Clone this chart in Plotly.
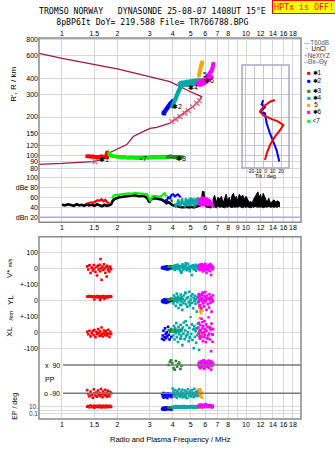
import math
import plotly.graph_objects as go

W, H = 335, 451
L, R = 39, 34
PW = W - L - R

def py(p):
    return 1 - p / H

def pxp(p):
    return (p - L) / PW

# ---------------- data ----------------
top_ticks = [1, 1.5, 2, 3, 4, 5, 6, 7, 8, 9, 10, 12, 14, 16, 18]
top_labels = ["1", "1.5", "2", "3", "4", "5", "6", "7", "8", "", "10", "12", "14", "16", "18"]
mid_labels = ["1", "1.5", "2", "3", "4", "5", "6", "7", "8", "9", "10", "12", "14", "16", "18"]
h_ticks = [80, 90, 100, 120, 150, 200, 300, 400, 600, 800]

# N(h) profile (topside then bottomside)
prof_f = [0.75, 1.0, 2.0, 3.0, 3.86, 4.96, 5.74, 5.51, 5.13, 4.66, 3.95, 3.86, 3.27, 3.01,
          2.76, 2.44, 2.25, 1.98, 1.78, 1.75, 1.48, 1.0, 0.75]
prof_h = [626, 573, 473, 412, 377, 316, 288, 263, 240, 219, 184, 179, 166, 163,
          154, 141, 122, 112, 104, 96, 90, 87, 85.7]

nxt_f = [1.51, 3.95, 4.16, 4.38, 4.66, 4.86, 5.13, 5.40, 5.57]
nxt_h = [90, 184, 192, 201, 214, 224, 240, 256, 268]

# echo traces (virtual height)
tr_red_f = [1.37, 1.40, 1.43, 1.46, 1.49, 1.52, 1.55, 1.58, 1.61, 1.64, 1.67, 1.70, 1.73, 1.75, 1.76, 1.76]
tr_red_h = [99, 99, 98, 99, 98, 97, 98, 97, 98, 99, 97, 98, 99, 103, 106, 97]
tr_lg_f = [1.80, 1.83, 1.86, 1.90, 1.95, 2.00, 2.05, 2.10, 2.15, 2.20, 2.25, 2.30, 2.35, 2.40, 2.45, 2.50,
           2.55, 2.60, 2.65, 2.70, 2.75, 2.80, 2.85, 2.90, 2.95, 3.00, 3.05, 3.10, 3.15, 3.20, 3.25,
           3.30, 3.35, 3.40, 3.45, 3.50, 3.55, 3.60, 3.65, 3.72]
tr_lg_h = [104, 101, 100, 99, 99, 98, 98, 97, 98, 97, 97, 96, 97, 97, 96, 97,
           96, 96, 97, 96, 97, 96, 97, 97, 96, 97, 97, 98, 97, 98, 97,
           98, 98, 97, 98, 98, 97, 98, 97, 98]
tr_dg_f = [3.76, 3.82, 3.88, 3.94, 4.00, 4.06, 4.12, 4.18, 4.24, 4.30, 4.36, 4.42, 4.48]
tr_dg_h = [98, 98, 99, 98, 98, 98, 97, 98, 97, 97, 98, 97, 97]
tr_bl_f = [3.55, 3.58, 3.61, 3.64, 3.67, 3.70, 3.73, 3.76, 3.79, 3.82, 3.85, 3.88, 3.91, 3.94, 3.97, 4.00, 4.03, 3.60]
tr_bl_h = [214, 217, 220, 223, 227, 231, 235, 239, 243, 246, 250, 253, 256, 259, 262, 265, 268, 212]
tr_te_f = [3.97, 4.00, 4.02, 4.05, 4.07, 4.10, 4.12, 4.15, 4.17, 4.20, 4.22, 4.25, 4.27, 4.30, 4.32, 4.35,
           4.37, 4.40, 4.42, 4.35, 4.40, 4.45, 4.50, 4.55, 4.60, 4.65, 4.70, 4.75, 4.80, 4.85, 4.90,
           4.95, 5.00, 5.05, 5.10, 5.15, 5.20, 5.25, 5.30, 5.35, 5.40, 5.45, 5.50, 5.55, 5.62,
           4.50, 4.60, 4.70, 4.80, 4.90, 5.00, 5.10, 5.20, 5.30, 5.40, 5.50]
tr_te_h = [241, 246, 252, 258, 263, 268, 274, 280, 286, 292, 298, 304, 310, 316, 322, 328,
           334, 340, 346, 362, 366, 368, 370, 372, 366, 370, 372, 374, 378, 375, 372,
           376, 380, 378, 376, 381, 384, 380, 378, 384, 386, 382, 386, 380, 388,
           352, 354, 355, 356, 358, 358, 360, 360, 362, 364, 366]
tr_or_f = [5.55, 5.57, 5.59, 5.61, 5.63, 5.65, 5.67, 5.69, 5.71, 5.74, 5.78]
tr_or_h = [420, 430, 440, 450, 462, 474, 486, 498, 510, 522, 532]
tr_mg_f = [5.45, 5.50, 5.55, 5.60, 5.65, 5.70, 5.75, 5.80, 5.85, 5.90, 5.95, 6.00, 6.05, 6.10, 6.15,
           6.20, 6.25, 6.30, 6.35, 6.40, 6.45, 6.50, 6.53, 6.56, 6.58, 6.60, 6.62, 6.64,
           5.60, 5.70, 5.80, 5.90, 6.00, 6.10, 6.20, 6.30, 6.40, 6.50]
tr_mg_h = [362, 364, 368, 370, 372, 375, 378, 381, 385, 388, 392, 396, 400, 405, 410,
           415, 420, 428, 435, 442, 450, 458, 466, 475, 485, 495, 505, 518,
           356, 358, 362, 366, 372, 378, 385, 392, 400, 410]

lab_text = ["✱1", "<7", "✱3", "✱2", "✱4", "5", "✱6"]
lab_f = [1.69, 2.74, 4.43, 4.24, 5.12, 5.99, 6.30]
lab_h = [93.4, 94.3, 94.3, 241.6, 339, 432, 385]

# tilt inset
tiltx_t = [12.2, 6.7, -0.8, -4.4, -0.8, 6.7, 15.9, 21.4, 17.8, 12.2, 6.7, 3.0, 1.1]
tiltx_h = [271, 263, 241, 220, 207, 195, 184, 173, 158, 141, 121, 104, 92.6]
tilty_t = [-0.8, -2.6, 1.1, -4.4, 1.1, 3.0, 6.7, 10.3, 14.1, 17.0]
tilty_h = [271, 251, 238, 220, 214, 179, 149, 129, 110, 90]
tilt_ticks = [-20, -10, 0, 10, 20]

# amplitude panel
amp_f = [1.00, 1.04, 1.08, 1.12, 1.16, 1.20, 1.24, 1.28, 1.32, 1.36, 1.40, 1.45, 1.50, 1.55, 1.60, 1.65,
         1.70, 1.75, 1.80, 1.85, 1.88, 1.92, 1.98, 2.05, 2.15, 2.25, 2.35, 2.45, 2.55, 2.65, 2.75, 2.85,
         2.92, 2.98, 3.03, 3.10, 3.20, 3.30, 3.40, 3.50, 3.60, 3.70, 3.80, 3.90, 4.00, 4.15, 4.30, 4.45,
         4.60, 4.75, 4.90, 5.05, 5.20, 5.35, 5.50, 5.65, 5.80, 5.86, 5.95, 6.10, 6.30, 6.50]
amp_v = [45, 44, 46, 45, 43, 46, 44, 45, 43, 46, 44, 45, 43, 46, 44, 42,
         45, 43, 44, 46, 52, 56, 58, 60, 61, 62, 63, 64, 63, 62, 63, 61,
         57, 50, 55, 57, 58, 57, 56, 55, 52, 48, 50, 47, 44, 43, 41, 40,
         40, 41, 40, 41, 40, 41, 42, 44, 60, 72, 46, 42, 41, 40]
noise_f = [6.60, 6.75, 6.90, 7.05, 7.20, 7.35, 7.50, 7.65, 7.80, 7.95, 8.10, 8.25, 8.40, 8.55, 8.70,
           8.85, 9.00, 9.20, 9.40, 9.60, 9.80, 10.0, 10.2, 10.4, 10.6, 10.8, 11.0, 11.2, 11.4, 11.6,
           11.8, 12.0, 12.2, 12.4, 12.6, 12.8, 13.0, 13.3, 13.6, 13.9, 14.2, 14.5, 14.8, 15.1, 15.3]
noise_hi = [54, 64, 50, 60, 56, 62, 48, 58, 66, 52, 60, 50, 64, 68, 56,
            62, 54, 66, 60, 64, 56, 62, 54, 50, 52, 48, 56, 62, 68, 71,
            60, 66, 54, 68, 62, 56, 50, 58, 48, 52, 55, 50, 53, 51, 49]
noise_lo = [40, 41, 39, 42, 40, 41, 40, 39, 41, 40, 42, 40, 39, 41, 40,
            41, 40, 42, 40, 39, 41, 40, 41, 40, 39, 41, 40, 42, 41, 40,
            41, 40, 41, 39, 40, 41, 40, 42, 40, 41, 40, 41, 40, 42, 41]
amp_red_f = [1.36, 1.40, 1.44, 1.48, 1.52, 1.56, 1.60, 1.64, 1.68, 1.72, 1.76, 1.80]
amp_red = [47, 48, 50, 49, 52, 54, 53, 56, 52, 55, 50, 48]
amp_lg_f = [1.87, 1.92, 2.0, 2.1, 2.2, 2.3, 2.4, 2.5, 2.6, 2.7, 2.8, 2.9, 2.97, 3.02, 3.1, 3.2, 3.3,
            3.4, 3.5, 3.6, 3.7]
amp_lg = [58, 64, 65, 66, 67, 68, 67, 69, 68, 68, 67, 66, 58, 52, 62, 63, 62, 61, 64, 68, 62]
amp_bl_f = [3.62, 3.70, 3.78, 3.86, 3.94, 4.02, 4.10, 4.18, 4.26, 4.34, 4.42]
amp_bl = [55, 52, 60, 58, 65, 66, 62, 64, 66, 63, 60]
amp_dg_f = [3.92, 3.95, 3.98]
amp_dg = [56, 51, 54]
amp_te_f = [4.10, 4.15, 4.20, 4.25, 4.30, 4.35, 4.40, 4.45, 4.50, 4.55, 4.60, 4.65, 4.70, 4.75, 4.80,
            4.85, 4.90, 4.95, 5.00, 5.05, 5.10, 5.15, 5.20, 5.25, 5.30, 5.35, 5.40, 5.45, 5.50, 5.55, 5.60]
amp_te = [48, 42, 44, 52, 56, 44, 42, 50, 58, 46, 48, 40, 58, 50, 44, 54,
          56, 42, 60, 46, 48, 58, 46, 40, 52, 58, 44, 54, 60, 48, 58]
amp_mg_f = [5.55, 5.60, 5.65, 5.70, 5.75, 5.80, 5.85, 5.90, 5.95, 6.00, 6.05, 6.10, 6.15, 6.20,
            6.25, 6.30, 6.35, 6.40, 6.45, 6.50, 6.55, 6.60, 6.62]
amp_mg = [44, 58, 42, 60, 44, 62, 42, 60, 44, 61, 43, 60, 42, 58, 44, 57, 43, 55, 42, 52, 42, 48, 40]

# bottom panel echoes: freq, V*, YL, XL, PP, EP
red_f = [1.37, 1.39, 1.41, 1.43, 1.45, 1.47, 1.49, 1.50, 1.52, 1.54, 1.55, 1.57, 1.58, 1.60, 1.61, 1.63,
         1.64, 1.66, 1.67, 1.69, 1.70, 1.72, 1.73, 1.75, 1.76, 1.78, 1.79, 1.81, 1.83, 1.85, 1.62]
red_v = [12, -8, 18, -30, 4, -14, 20, -2, -22, 9, -45, 15, -6, 22, -18, 2, -72, 11, -10, 25, -4, -28, 8,
         -52, 16, -12, 3, -20, 10, -6, 58]
red_yl = [24, 22, 26, 23, 25, 21, 24, 5, 22, 20, 26, 18, 23, 25, 2, 21, 24, 19, 27, 22, 8, 23, 20, 25,
          18, 22, 24, 21, 26, 23, 12]
red_xl = [4, -12, 10, -25, -6, 8, -18, 14, -30, 2, -10, 20, -4, -22, 6, -14, 30, -8, -26, 12, -2, -16, 8,
          -20, -6, 16, -12, -28, 4, -10, -18]
red_pp = [-70, -95, -110, -80, -100, -118, -65, -90, -105, -85, -112, -72, -98, -88, -108, -62, -95, -115,
          -78, -92, -104, -68, -100, -86, -112, -74, -96, -108, -82, -90, -100]
red_ep = [12, 20, 8, 30, 15, 10, 25, 6, 18, 12, 22, 9, 14, 28, 11, 16, 7, 20, 13, 24, 10, 17, 8, 26, 12,
          19, 9, 15, 22, 11, 14]

blue_f = [3.50, 3.53, 3.56, 3.58, 3.61, 3.63, 3.66, 3.68, 3.71, 3.74, 3.77, 3.80, 3.84, 3.88, 3.93, 3.98]
blue_v = [4, -2, 8, 0, 6, -4, 10, 2, -6, 12, -8, 5, -2, 8, 0, 3]
blue_yl = [-8, 2, -14, -4, 6, -10, 0, -16, 4, -6, -12, 2, -8, -2, 10, -4]
blue_xl = [-40, -20, 10, -48, -30, 25, -10, -36, 0, -24, 35, -15, -44, 5, -28, 12]
blue_pp = [-95, -110, -88, -118, -100, -92, -112, -104, -96, -120, -90, -108, -100, -94, -114, -98]
blue_ep = [3, 1.5, 6, 2, 4, 1.2, 8, 2.5, 5, 1.8, 3.5, 7, 2, 4.5, 1.5, 6]

dkg_f = [3.80, 3.86, 3.92, 3.98, 4.04, 4.10, 4.16, 4.22, 4.28, 4.34, 4.40, 4.46]
dkg_v = [10, 12, 8, 11, 9, 13, 10, 7, 12, 9, 11, 8]
dkg_yl = [6, 2, 10, 4, 8, 0, 6, 12, 3, 7, 5, 9]
dkg_xl = [15, 8, 20, 12, 4, 18, 10, 14, 6, 16, 9, 12]
dkg_pp = [90, 110, 120, 100, 70, 60, 115, 80, 95, 105, 65, 85]
dkg_ep = [8, 6, 9, 7, 5, 8, 6, 7, 9, 6, 8, 7]

teal_f = [4.00, 4.03, 4.06, 4.09, 4.12, 4.15, 4.18, 4.21, 4.24, 4.27, 4.30, 4.33, 4.36, 4.39, 4.42, 4.45,
          4.48, 4.51, 4.54, 4.57, 4.60, 4.64, 4.68, 4.72, 4.76, 4.80, 4.84, 4.88, 4.92, 4.96, 5.00, 5.04,
          5.08, 5.12, 5.16, 5.20, 5.24, 5.28, 5.32, 5.36, 5.40, 5.44, 5.48, 5.52, 5.56, 5.60, 4.44, 4.70,
          4.95, 5.25]
teal_v = [8, -4, 14, 2, -10, 18, 5, -2, 22, 10, -6, 15, 0, -14, 12, 6, -20, 24, 3, -8, 16, 9, -3, 20,
          -12, 4, 28, -5, 11, -18, 7, 14, -42, 2, 18, -7, 10, -1, 22, -15, 6, 12, -3, 17, 0, 9, -28, 31,
          -10, 5]
teal_yl = [10, -20, 30, -5, 18, -35, 5, 42, -12, 24, -48, 0, 15, -28, 36, -8, 22, -60, 8, -18, 30, -2,
           48, -25, 12, -40, 20, -10, 54, -32, 4, 26, -15, 38, -50, 14, -6, 28, -22, 6, -71, 18, -12, 34,
           -4, 10, -30, 44, -16, 2]
teal_xl = [10, -20, 40, -45, 25, -5, 58, -30, 15, -60, 35, -12, 5, -38, 48, -22, 20, -80, 30, -8, 62,
           -42, 12, -25, 45, -15, 0, -55, 28, -35, 98, -10, 50, -48, 18, -99, 38, -28, 8, -65, 25, -18,
           55, -5, -110, 15, -40, 70, -30, 22]
teal_pp = [-60, -80, -95, -110, -70, -100, -88, -118, -75, -92, -105, -65, -98, -112, -82, -90, -102,
           -68, -115, -86, -96, -108, -72, -100, -84, -120, -64, -94, -106, -78, -90, -110, -70, -98,
           -86, -114, -62, -102, -92, -80, -108, -96, -74, -88, -104, -66, -100, -116, -84, -94]
teal_ep = [8, 12, 6, 15, 10, 20, 7, 9, 14, 11, 6, 18, 8, 13, 10, 7, 16, 9, 12, 6, 22, 8, 11, 14, 7, 10,
           17, 9, 6, 12, 15, 8, 10, 20, 7, 13, 9, 11, 6, 16, 8, 12, 10, 7, 14, 9, 18, 6, 11, 8]

org_f = [5.55, 5.58, 5.61, 5.64, 5.67, 5.70, 5.74, 5.78]
org_v = [8, 2, 12, -4, 6, 0, 10, -2]
org_yl = [-30, -50, -40, -70, -60, -80, -45, -65]
org_xl = [-10, -25, 88, -35, -5, -20, -30, -15]
org_pp = [-65, -80, -95, -110, -70, -100, -85, -118]
org_ep = [9, 12, 8, 14, 10, 7, 11, 9]

mag_f = [5.50, 5.53, 5.56, 5.59, 5.62, 5.65, 5.68, 5.71, 5.74, 5.77, 5.80, 5.83, 5.86, 5.89, 5.92, 5.95,
         5.98, 6.01, 6.04, 6.07, 6.10, 6.14, 6.18, 6.22, 6.26, 6.30, 6.34, 6.38, 6.42, 6.46, 6.50, 6.54,
         6.58, 6.62, 5.60, 5.80, 6.00, 6.20, 6.40, 6.60]
mag_v = [10, -5, 20, 2, -12, 15, 5, -8, 24, 0, 12, -20, 8, -3, 18, -14, 6, 28, -6, 10, -30, 14, 2, -10,
         20, -4, 8, -18, 12, -42, 4, 16, -8, 6, 22, -2, 10, -12, 26, 0]
mag_yl = [20, -10, 40, 0, -30, 28, 10, -50, 35, -5, 15, -20, 45, 5, -38, 25, -12, 52, -2, 18, -60, 30,
          8, -25, 12, -45, 38, 0, -15, 22, -71, 10, -8, 30, -35, 48, 2, -22, 16, -4]
mag_xl = [30, -10, 60, 5, -40, 45, 15, -25, 85, -5, 25, -55, 40, 0, -30, 70, -15, 20, -60, 50, 10, -35,
          35, -20, 95, -8, 28, -45, 15, -118, 55, -12, -59, 20, -28, 65, 5, -40, 30, -15]
mag_pp = [90, 100, 80, 110, 70, 95, 105, 85, 115, 75, 92, 100, 88, 120, 65, 96, 108, 82, 98, 90, 112,
          78, 100, 86, 118, 72, 94, 104, 88, 60, 110, 84, 96, 100, 92, 80, 106, 90, 115, 98]
mag_ep = [15, 30, 10, 40, 20, 60, 12, 25, 18, 45, 8, 35, 22, 14, 50, 28, 10, 20, 80, 16, 12, 30, 24, 9,
          40, 18, 14, 26, 11, 35, 20, 7, 16, 22, 30, 12, 45, 18, 25, 10]

C_RED = "#ff0000"
C_BLUE = "#0000ff"
C_DG = "#1e8c1e"
C_TEAL = "#00a8a8"
C_ORG = "#ffa500"
C_MAG = "#ff00ff"
C_LG = "#00f000"
C_PROF = "#a01a40"

FONT = "Liberation Sans"
GRID = "#d6d6e0"

fig = go.Figure()

# ---- top panel ----
fig.add_trace(go.Scatter(x=prof_f, y=prof_h, mode="lines", line=dict(color=C_PROF, width=1.3),
                         xaxis="x", yaxis="y"))
fig.add_trace(go.Scatter(x=nxt_f, y=nxt_h, mode="markers",
                         marker=dict(symbol="x-thin", size=5, line=dict(color="#e0607a", width=1.2)),
                         xaxis="x", yaxis="y"))
for f_, h_, c_ in [(tr_red_f, tr_red_h, C_RED), (tr_lg_f, tr_lg_h, C_LG), (tr_dg_f, tr_dg_h, C_DG),
                   (tr_bl_f, tr_bl_h, C_BLUE), (tr_te_f, tr_te_h, C_TEAL), (tr_or_f, tr_or_h, C_ORG),
                   (tr_mg_f, tr_mg_h, C_MAG)]:
    fig.add_trace(go.Scatter(x=f_, y=h_, mode="markers",
                             marker=dict(symbol="square", size=3.6, color=c_, line=dict(width=0)),
                             xaxis="x", yaxis="y"))

# ---- tilt inset ----
fig.add_trace(go.Scatter(x=tilty_t, y=tilty_h, mode="lines", line=dict(color=C_BLUE, width=2),
                         xaxis="x4", yaxis="y8"))
fig.add_trace(go.Scatter(x=tiltx_t, y=tiltx_h, mode="lines", line=dict(color=C_RED, width=2),
                         xaxis="x4", yaxis="y8"))

# ---- amplitude panel ----
fig.add_trace(go.Scatter(x=amp_f, y=amp_v, mode="lines", line=dict(color="black", width=2.6),
                         xaxis="x2", yaxis="y2"))
fig.add_trace(go.Scatter(x=noise_f, y=noise_lo, mode="lines", line=dict(color="black", width=1),
                         xaxis="x2", yaxis="y2"))
fig.add_trace(go.Scatter(x=noise_f, y=noise_hi, mode="lines", line=dict(color="black", width=1),
                         fill="tonexty", fillcolor="black", xaxis="x2", yaxis="y2"))
for f_, a_, c_ in [(amp_red_f, amp_red, C_RED), (amp_lg_f, amp_lg, C_LG), (amp_bl_f, amp_bl, C_BLUE),
                   (amp_dg_f, amp_dg, C_DG), (amp_te_f, amp_te, C_TEAL), (amp_mg_f, amp_mg, C_MAG)]:
    fig.add_trace(go.Scatter(x=f_, y=a_, mode="lines", line=dict(color=c_, width=2.2),
                             xaxis="x2", yaxis="y2"))

# ---- bottom panel ----
groups = [
    (red_f, red_v, red_yl, red_xl, red_pp, red_ep, C_RED),
    (blue_f, blue_v, blue_yl, blue_xl, blue_pp, blue_ep, C_BLUE),
    (dkg_f, dkg_v, dkg_yl, dkg_xl, dkg_pp, dkg_ep, C_DG),
    (teal_f, teal_v, teal_yl, teal_xl, teal_pp, teal_ep, C_TEAL),
    (org_f, org_v, org_yl, org_xl, org_pp, org_ep, C_ORG),
    (mag_f, mag_v, mag_yl, mag_xl, mag_pp, mag_ep, C_MAG),
]
for g in groups:
    f_, c_ = g[0], g[6]
    for vals, ya in zip(g[1:6], ["y3", "y4", "y5", "y6", "y7"]):
        fig.add_trace(go.Scatter(x=f_, y=vals, mode="markers",
                                 marker=dict(symbol="square", size=2.6, color=c_, line=dict(width=0)),
                                 xaxis="x3", yaxis=ya))

# ---------------- layout ----------------
frange = [math.log10(0.75), 1.2989]
tickfont = dict(family=FONT, size=7, color="black")

def xax(**kw):
    d = dict(type="log", range=frange, domain=[0, 1], showgrid=True, gridcolor=GRID, gridwidth=1,
             zeroline=False, showline=False, ticks="", tickfont=tickfont, tickvals=top_ticks,
             tickangle=0, fixedrange=True)
    d.update(kw)
    return d

def yax(**kw):
    d = dict(showgrid=True, gridcolor=GRID, gridwidth=1, zeroline=False, showline=False, ticks="",
             tickfont=tickfont, anchor="x3", tickangle=0, fixedrange=True)
    d.update(kw)
    return d

layout = dict(
    width=W, height=H, margin=dict(l=L, r=R, t=0, b=0, pad=0, autoexpand=False),
    paper_bgcolor="white", plot_bgcolor="white", showlegend=False,
    xaxis=xax(anchor="y", side="top", ticktext=top_labels),
    xaxis2=xax(anchor="y2", side="bottom", ticktext=mid_labels, matches="x"),
    xaxis3=xax(anchor="y7", side="bottom", ticktext=top_labels),
    xaxis4=dict(domain=[pxp(242), pxp(289)], anchor="y8", range=[-24.4, 27.8], tickvals=tilt_ticks,
                showticklabels=False, showgrid=True, gridcolor="#c4c4d6",
                zeroline=False, showline=False, ticks="", fixedrange=True),
    yaxis=yax(anchor="x", type="log", domain=[py(171), py(38)],
              range=[math.log10(76), math.log10(824)], tickvals=h_ticks),
    yaxis8=dict(anchor="x4", type="log", domain=[py(168), py(65)], range=[1.9043, 2.7058],
                tickvals=h_ticks, showticklabels=False, showgrid=True, gridcolor="#c4c4d6",
                zeroline=False, showline=False, ticks="", fixedrange=True),
    yaxis2=yax(anchor="x2", domain=[py(222.3), py(171)], range=[10, 112.6],
               tickvals=[20, 40, 60, 80, 100], ticktext=["dBn 20", "40", "60", "dBe 80", "100"]),
    yaxis3=yax(domain=[py(284.3), py(236.7)], range=[-100.5, 197.5], tickvals=[100, 0, -100],
               ticktext=["100", "0", "+-100"], gridcolor="#dadada"),
    yaxis4=yax(domain=[py(316.3), py(284.3)], range=[-100.5, 100.5], tickvals=[0, -100],
               ticktext=["0", "+-100"], gridcolor="#dadada"),
    yaxis5=yax(domain=[py(355), py(316.3)], range=[-141.5, 100.5], tickvals=[0, -100],
               ticktext=["0", "-100"], gridcolor="#dadada"),
    yaxis6=yax(domain=[py(401), py(355)], range=[-139, 153.6], showgrid=False, showticklabels=False),
    yaxis7=yax(type="log", domain=[py(419), py(401)], range=[-2.81, 2.9], tickvals=[10, 1, 0.1],
               ticktext=["10.", "", "0.1"], gridcolor="#dadada", tickfont=dict(family=FONT, size=6.5)),
)
fig.update_layout(**layout)

# frames and special lines
FR = "#8a8a8a"
shapes = [
    dict(type="rect", xref="paper", yref="paper", x0=0, x1=1, y0=py(222.3), y1=py(38),
         line=dict(color=FR, width=1.5)),
    dict(type="rect", xref="paper", yref="paper", x0=0, x1=1, y0=py(419), y1=py(236.7),
         line=dict(color=FR, width=1.5)),
    dict(type="rect", xref="paper", yref="paper", x0=pxp(242), x1=pxp(289), y0=py(168), y1=py(65),
         line=dict(color="#a8a8c0", width=1.5)),
    dict(type="line", xref="paper", yref="y2", x0=0, x1=1, y0=20, y1=20,
         line=dict(color="#a8a8f0", width=1.5)),
    dict(type="line", xref="paper", yref="y6", x0=pxp(63), x1=1, y0=90, y1=90,
         line=dict(color="#7a7a7a", width=1.5)),
    dict(type="line", xref="paper", yref="y6", x0=pxp(63), x1=1, y0=-90, y1=-90,
         line=dict(color="#7a7a7a", width=1.5)),
]
fig.update_layout(shapes=shapes)

ann = []

def A(text, x, y, size=7, xanchor="center", color="black", family=FONT, angle=0, **kw):
    d = dict(text=text, x=pxp(x), y=py(y), xref="paper", yref="paper", showarrow=False,
             xanchor=xanchor, yanchor="middle", textangle=angle,
             font=dict(family=family, size=size, color=color))
    d.update(kw)
    ann.append(d)

MONO = "DejaVu Sans Mono"
A("TROMSO NORWAY   DYNASONDE 25-08-07 1408UT 15°E<br>"
  "   8pBP6It DoY= 219.588 File= TR766788.BPG   ", 152, 16.3, size=8.2, family=MONO)
A("HPTx is OFF!", 303.5, 7.2, size=8.3, family=MONO, color="#ff0000", bgcolor="#ffff00",
  bordercolor="#ff0000", borderwidth=1, borderpad=1)

# legend
LS = 6.3
A('<span style="color:#999999">—</span>T60dB', 302, 42.7, size=LS, xanchor="left", color="#555555")
A('·  UnCl', 303.5, 48.5, size=LS, xanchor="left")
A('<span style="color:#e0607a">+</span>NeXtYZ', 302, 55.2, size=LS, xanchor="left", color="#444444")
A('<span style="color:#e07080">–</span>Θx<span style="color:#7070ff">–</span>Θy', 301.5, 61.8,
  size=LS, xanchor="left", color="#444444")
leg_items = [("✱1", C_RED, 72.7), ("✱2", C_BLUE, 80), ("✱3", C_DG, 90.7), ("✱4", C_TEAL, 97.3),
             (" 5", C_ORG, 104.7), ("✱6", C_MAG, 112), ("<7", C_LG, 120)]
for t, c, yy in leg_items:
    A('<span style="color:%s">■</span> %s' % (c, t), 305, yy, size=LS, xanchor="left")

# echo labels in data coordinates
for t, f_, h_ in zip(lab_text, lab_f, lab_h):
    ann.append(dict(text=t, x=math.log10(f_), y=math.log10(h_), xref="x", yref="y", showarrow=False,
                    font=dict(family=FONT, size=7, color="black")))

# axis titles
A("R', R / km", 12.7, 84, size=8, angle=-90)
A('V* <span style="font-size:5.5px">m/s</span>', 9, 268, size=8, angle=-90)
A("YL", 10, 300, size=8, angle=-90)
A('<span style="font-size:6px">/km</span>', 10, 315.5, size=6, angle=-90)
A("XL", 10, 331.7, size=8, angle=-90)
A("EP / deg", 15, 406.7, size=7, angle=-90)
A("x  90", 62, 365, size=7, xanchor="right")
A("PP", 42.5, 379, size=7, xanchor="left")
A("o -90", 62, 393.3, size=7, xanchor="right")
A("Radio and Plasma Frequency / MHz", 170, 439, size=7.5)
A("-20-10  0  10  20", 265.5, 170.6, size=5)
A("Tilt / deg", 265.5, 176.4, size=5.5)

fig.update_layout(annotations=ann)
fig.write_html("out.html")
